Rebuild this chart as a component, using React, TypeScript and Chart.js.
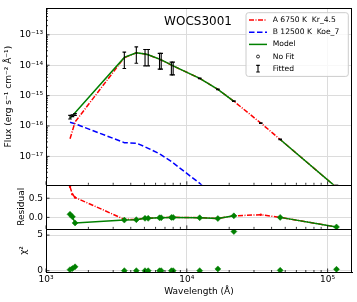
import React, { useEffect, useRef } from "react";
import { Chart, registerables } from "chart.js";

Chart.register(...registerables);

const FONT = "'DejaVu Sans', sans-serif";

// ---- data ----
const wavelengths = [1481, 1541, 1608, 3600, 4380, 5050, 5320, 6400, 6580, 7770, 8000, 12350, 16620, 21590, 33526, 46028, 115608];
const modelFlux = [1.79e-16, 2.18e-16, 2.72e-16, 1.81e-14, 2.57e-14, 2.35e-14, 2.21e-14, 1.58e-14, 1.49e-14, 1.02e-14, 9.5e-15, 3.7e-15, 1.6e-15, 6.5e-16, null, 3.6e-17, 9.5e-19];
const compAFlux = [3.81e-17, 6.9e-17, 1.35e-16, 1.78e-14, 2.55e-14, 2.33e-14, 2.19e-14, 1.57e-14, 1.48e-14, 1.01e-14, 9.45e-15, 3.7e-15, 1.6e-15, 6.5e-16, 1.25e-16, 3.6e-17, 9.5e-19];
const compBFlux = [1.32e-16, 1.25e-16, 1.18e-16, 2.83e-17, 2.72e-17, 2.06e-17, 1.84e-17, 1.21e-17, 1.12e-17, 6.75e-18, 6.08e-18, 1.3e-18, 3.5e-19, 1.26e-19, 2.5e-20, 7.9e-21, 2e-22];
const obsFlux = [1.95e-16, 2.18e-16, 2.38e-16, 1.45e-14, 2.16e-14, 1.77e-14, 1.77e-14, 1.35e-14, 1.35e-14, 7.8e-15, 7.8e-15, 3.7e-15, 1.6e-15, 6.6e-16, 1.25e-16, 3.6e-17, 7.5e-19];
const obsErrDex = [0.06, 0.03, 0.03, 0.27, 0.27, 0.27, 0.27, 0.26, 0.26, 0.21, 0.21, 0.01, 0.01, 0.01, 0.01, 0.01, 0.18];
const residModel = [0.08, 0.015, -0.145, -0.07, -0.06, -0.025, -0.025, -0.01, -0.01, 0.0, 0.0, -0.01, -0.03, 0.04, null, 0.0, -0.25];
const residA = [0.8, 0.6, 0.52, -0.05, -0.055, -0.022, -0.022, -0.008, -0.008, 0.002, 0.002, -0.008, -0.028, 0.04, 0.07, 0.0, -0.25];
const chi2 = [0.15, 0.3, 0.55, 0.01, 0.01, 0.0, 0.0, 0.0, 0.0, 0.0, 0.0, 0.01, 0.25, 5.5, null, 0.05, 0.2];

const fluxTicks = [1e-17, 1e-16, 1e-15, 1e-14, 1e-13];
const fluxTickLabels = ["10⁻¹⁷", "10⁻¹⁶", "10⁻¹⁵", "10⁻¹⁴", "10⁻¹³"];
const residTicks = [0, 0.5];
const residTickLabels = ["0.0", "0.5"];
const chiTicks = [0, 5];
const chiTickLabels = ["0", "5"];
const waveTicks = [1e3, 1e4, 1e5];
const waveTickLabels = ["10³", "10⁴", "10⁵"];
const legendLabels = ["A 6750 K  Kr_4.5", "B 12500 K  Koe_7", "Model", "No Fit", "Fitted"];
const chartTitle = "WOCS3001";

const GREEN = "#008000";
const RED = "#ff0000";
const BLUE = "#0000ff";
const DASHDOT = [5, 1.5, 1, 1.5];
const DASHED = [5.5, 2.5];

function pts(ys: (number | null)[]) {
  return wavelengths.map((w, i) => ({ x: w, y: ys[i] }));
}

function labelFor(ticks: number[], labels: string[]) {
  return (v: any) => {
    const n = Number(v);
    const i = ticks.findIndex((t) => (t === 0 ? Math.abs(n) < 1e-9 : Math.abs(n / t - 1) < 1e-6));
    return i >= 0 ? labels[i] : "";
  };
}

const tickFont = { family: FONT, size: 9 };
const titleFont = { family: FONT, size: 9 };
const gridOpts = { color: "#dcdcdc", lineWidth: 1, drawTicks: false };
const borderOpts = { display: true, color: "#000", width: 1 };

const decorPlugin = {
  id: "sedDecor",
  afterDatasetsDraw(chart: any) {
    const ctx = chart.ctx as CanvasRenderingContext2D;
    const xs = chart.scales.x;
    const yF = chart.scales.yFlux;
    ctx.save();
    ctx.beginPath();
    ctx.rect(xs.left, yF.top, xs.right - xs.left, yF.bottom - yF.top);
    ctx.clip();
    ctx.strokeStyle = "#000";
    ctx.lineWidth = 1.1;
    wavelengths.forEach((w, i) => {
      const f = obsFlux[i];
      const e = obsErrDex[i];
      const px = xs.getPixelForValue(w);
      const yTop = yF.getPixelForValue(f * Math.pow(10, e));
      const yBot = yF.getPixelForValue(f / Math.pow(10, e));
      ctx.beginPath();
      ctx.moveTo(px, yTop);
      ctx.lineTo(px, yBot);
      ctx.moveTo(px - 1.8, yTop);
      ctx.lineTo(px + 1.8, yTop);
      ctx.moveTo(px - 1.8, yBot);
      ctx.lineTo(px + 1.8, yBot);
      ctx.stroke();
    });
    ctx.restore();
  },
  afterDraw(chart: any) {
    const ctx = chart.ctx as CanvasRenderingContext2D;
    const xs = chart.scales.x;
    const yF = chart.scales.yFlux;
    const yR = chart.scales.yRes;
    const yC = chart.scales.yChi;
    const L = xs.left;
    const R = xs.right;
    const a = (v: number) => Math.round(v) + 0.5;
    ctx.save();
    // inward ticks
    ctx.strokeStyle = "#000";
    ctx.lineWidth = 0.8;
    ctx.beginPath();
    for (const p of [yF, yR, yC]) {
      for (const v of waveTicks) {
        const px = xs.getPixelForValue(v);
        if (px < L - 0.5 || px > R + 0.5) continue;
        ctx.moveTo(px, p.bottom);
        ctx.lineTo(px, p.bottom - 3.5);
      }
      for (let n = 3; n <= 5; n++) {
        for (let k = 2; k <= 9; k++) {
          const px = xs.getPixelForValue(k * Math.pow(10, n));
          if (px < L || px > R) continue;
          ctx.moveTo(px, p.bottom);
          ctx.lineTo(px, p.bottom - 2);
        }
      }
    }
    for (const v of fluxTicks) {
      const py = yF.getPixelForValue(v);
      ctx.moveTo(L, py);
      ctx.lineTo(L + 3.5, py);
    }
    for (let n = -19; n <= -13; n++) {
      for (let k = 2; k <= 9; k++) {
        const py = yF.getPixelForValue(k * Math.pow(10, n));
        if (py < yF.top || py > yF.bottom) continue;
        ctx.moveTo(L, py);
        ctx.lineTo(L + 2, py);
      }
    }
    for (const v of residTicks) {
      const py = yR.getPixelForValue(v);
      ctx.moveTo(L, py);
      ctx.lineTo(L + 3.5, py);
    }
    for (const v of chiTicks) {
      const py = yC.getPixelForValue(v);
      ctx.moveTo(L, py);
      ctx.lineTo(L + 3.5, py);
    }
    ctx.stroke();

    // panel frames
    ctx.lineWidth = 1;
    ctx.beginPath();
    ctx.moveTo(L, a(yF.top));
    ctx.lineTo(R, a(yF.top));
    ctx.moveTo(a(R - 1), yF.top);
    ctx.lineTo(a(R - 1), yC.bottom);
    ctx.moveTo(L, a(yF.bottom));
    ctx.lineTo(R, a(yF.bottom));
    ctx.moveTo(L, a(yR.bottom));
    ctx.lineTo(R, a(yR.bottom));
    ctx.stroke();

    // title
    ctx.fillStyle = "#000";
    ctx.font = `12px ${FONT}`;
    ctx.textAlign = "center";
    ctx.textBaseline = "alphabetic";
    ctx.fillText(chartTitle, (L + R) / 2 - 1, yF.top + 16.3);

    // legend
    const bw = 102.3;
    const bh = 63.7;
    const bx = R - 3.7 - bw;
    const by = yF.top + 4.3;
    const r = 2.5;
    ctx.beginPath();
    ctx.moveTo(bx + r, by);
    ctx.lineTo(bx + bw - r, by);
    ctx.arcTo(bx + bw, by, bx + bw, by + r, r);
    ctx.lineTo(bx + bw, by + bh - r);
    ctx.arcTo(bx + bw, by + bh, bx + bw - r, by + bh, r);
    ctx.lineTo(bx + r, by + bh);
    ctx.arcTo(bx, by + bh, bx, by + bh - r, r);
    ctx.lineTo(bx, by + r);
    ctx.arcTo(bx, by, bx + r, by, r);
    ctx.closePath();
    ctx.fillStyle = "rgba(255,255,255,0.8)";
    ctx.fill();
    ctx.strokeStyle = "#cccccc";
    ctx.lineWidth = 1;
    ctx.stroke();

    const sx0 = bx + 3;
    const sx1 = bx + 21;
    const sxm = (sx0 + sx1) / 2;
    ctx.font = `7.6px ${FONT}`;
    ctx.textAlign = "left";
    ctx.textBaseline = "middle";
    legendLabels.forEach((lab, i) => {
      const yy = by + 7.4 + i * 12.15;
      ctx.save();
      if (i < 3) {
        ctx.strokeStyle = i === 0 ? RED : i === 1 ? BLUE : GREEN;
        ctx.lineWidth = 1.5;
        ctx.setLineDash(i === 0 ? DASHDOT : i === 1 ? DASHED : []);
        ctx.beginPath();
        ctx.moveTo(sx0, yy);
        ctx.lineTo(sx1, yy);
        ctx.stroke();
      } else if (i === 3) {
        ctx.strokeStyle = "#000";
        ctx.lineWidth = 0.8;
        ctx.beginPath();
        ctx.arc(sxm, yy, 1.5, 0, Math.PI * 2);
        ctx.stroke();
      } else {
        ctx.strokeStyle = "#000";
        ctx.lineWidth = 1.1;
        ctx.beginPath();
        ctx.moveTo(sxm, yy - 3.3);
        ctx.lineTo(sxm, yy + 3.3);
        ctx.moveTo(sxm - 1.8, yy - 3.3);
        ctx.lineTo(sxm + 1.8, yy - 3.3);
        ctx.moveTo(sxm - 1.8, yy + 3.3);
        ctx.lineTo(sxm + 1.8, yy + 3.3);
        ctx.stroke();
      }
      ctx.restore();
      ctx.fillStyle = "#000";
      ctx.fillText(lab, bx + 26.7, yy);
    });
    ctx.restore();
  },
};

export default function App() {
  const canvasRef = useRef<HTMLCanvasElement | null>(null);

  useEffect(() => {
    const canvas = canvasRef.current;
    if (!canvas) return;
    Chart.defaults.font.family = FONT;
    Chart.defaults.color = "#000";

    const chart = new Chart(canvas, {
      type: "line",
      data: {
        datasets: [
          {
            label: "Model",
            data: pts(modelFlux),
            yAxisID: "yFlux",
            borderColor: GREEN,
            borderWidth: 1.5,
            pointRadius: 0,
            spanGaps: false,
            clip: 0,
            order: 1,
          },
          {
            label: legendLabels[0],
            data: pts(compAFlux),
            yAxisID: "yFlux",
            borderColor: RED,
            borderWidth: 1.5,
            borderDash: DASHDOT,
            pointRadius: 0,
            clip: 0,
            order: 2,
          },
          {
            label: legendLabels[1],
            data: pts(compBFlux),
            yAxisID: "yFlux",
            borderColor: BLUE,
            borderWidth: 1.5,
            borderDash: DASHED,
            pointRadius: 0,
            clip: 0,
            order: 3,
          },
          {
            label: "Residual model",
            data: pts(residModel),
            yAxisID: "yRes",
            borderColor: GREEN,
            borderWidth: 1.5,
            pointStyle: "rectRot",
            pointRadius: 3,
            pointBackgroundColor: GREEN,
            pointBorderColor: GREEN,
            pointBorderWidth: 0.5,
            spanGaps: false,
            order: 4,
          },
          {
            label: "Residual A",
            data: pts(residA),
            yAxisID: "yRes",
            borderColor: RED,
            borderWidth: 1.5,
            borderDash: DASHDOT,
            pointRadius: 1.2,
            pointBackgroundColor: RED,
            pointBorderColor: RED,
            pointBorderWidth: 0,
            order: 5,
          },
          {
            label: "chi2",
            data: pts(chi2),
            yAxisID: "yChi",
            showLine: false,
            pointStyle: "rectRot",
            pointRadius: 3,
            pointBackgroundColor: GREEN,
            pointBorderColor: GREEN,
            pointBorderWidth: 0.5,
            order: 6,
          },
        ],
      },
      options: {
        responsive: false,
        animation: false,
        events: [],
        layout: { padding: { top: 3, right: 5, left: 0, bottom: 0 } },
        plugins: {
          legend: { display: false },
          tooltip: { enabled: false },
          title: { display: false },
        },
        scales: {
          x: {
            type: "logarithmic",
            position: "bottom",
            min: 1000,
            max: 1.49e5,
            bounds: "data",
            afterBuildTicks: (s: any) => {
              s.ticks = waveTicks.map((v) => ({ value: v }));
            },
            afterFit: (s: any) => {
              s.height = 30;
            },
            ticks: {
              callback: labelFor(waveTicks, waveTickLabels),
              font: tickFont,
              color: "#000",
              padding: 2,
              maxRotation: 0,
              autoSkip: false,
            },
            grid: gridOpts,
            border: borderOpts,
            title: {
              display: true,
              text: "Wavelength (Å)",
              font: titleFont,
              color: "#000",
              padding: { top: 0, bottom: 4.6 },
            },
          },
          yFlux: {
            type: "logarithmic",
            position: "left",
            stack: "sed",
            stackWeight: 180,
            weight: 3,
            min: 1.16e-18,
            max: 7.41e-13,
            bounds: "data",
            afterBuildTicks: (s: any) => {
              s.ticks = fluxTicks.map((v) => ({ value: v }));
            },
            afterFit: (s: any) => {
              s.width = 46;
            },
            ticks: {
              callback: labelFor(fluxTicks, fluxTickLabels),
              font: tickFont,
              color: "#000",
              padding: 3,
              autoSkip: false,
            },
            grid: gridOpts,
            border: borderOpts,
            title: {
              display: true,
              text: "Flux (erg s⁻¹ cm⁻² Å⁻¹)",
              font: titleFont,
              color: "#000",
              padding: { top: 3.6, bottom: 0 },
            },
          },
          yRes: {
            type: "linear",
            position: "left",
            stack: "sed",
            stackWeight: 45,
            weight: 2,
            min: -0.3,
            max: 0.85,
            bounds: "data",
            afterBuildTicks: (s: any) => {
              s.ticks = residTicks.map((v) => ({ value: v }));
            },
            afterFit: (s: any) => {
              s.width = 46;
            },
            ticks: {
              callback: labelFor(residTicks, residTickLabels),
              font: tickFont,
              color: "#000",
              padding: 3,
              autoSkip: false,
            },
            grid: gridOpts,
            border: borderOpts,
            title: {
              display: true,
              text: "Residual",
              font: titleFont,
              color: "#000",
              padding: { top: 16, bottom: 0 },
            },
          },
          yChi: {
            type: "linear",
            position: "left",
            stack: "sed",
            stackWeight: 44,
            weight: 1,
            min: -0.18,
            max: 5.87,
            bounds: "data",
            afterBuildTicks: (s: any) => {
              s.ticks = chiTicks.map((v) => ({ value: v }));
            },
            afterFit: (s: any) => {
              s.width = 46;
            },
            ticks: {
              callback: labelFor(chiTicks, chiTickLabels),
              font: tickFont,
              color: "#000",
              padding: 3,
              autoSkip: false,
            },
            grid: gridOpts,
            border: borderOpts,
            title: {
              display: true,
              text: "χ²",
              font: titleFont,
              color: "#000",
              padding: { top: 18.6, bottom: 0 },
            },
          },
        },
      } as any,
      plugins: [decorPlugin as any],
    });

    return () => {
      chart.destroy();
    };
  }, []);

  return (
    <div style={{ position: "absolute", left: 0, top: 0, width: 357, height: 302, background: "#fff" }}>
      <canvas ref={canvasRef} width={357} height={302} style={{ display: "block" }} />
    </div>
  );
}
